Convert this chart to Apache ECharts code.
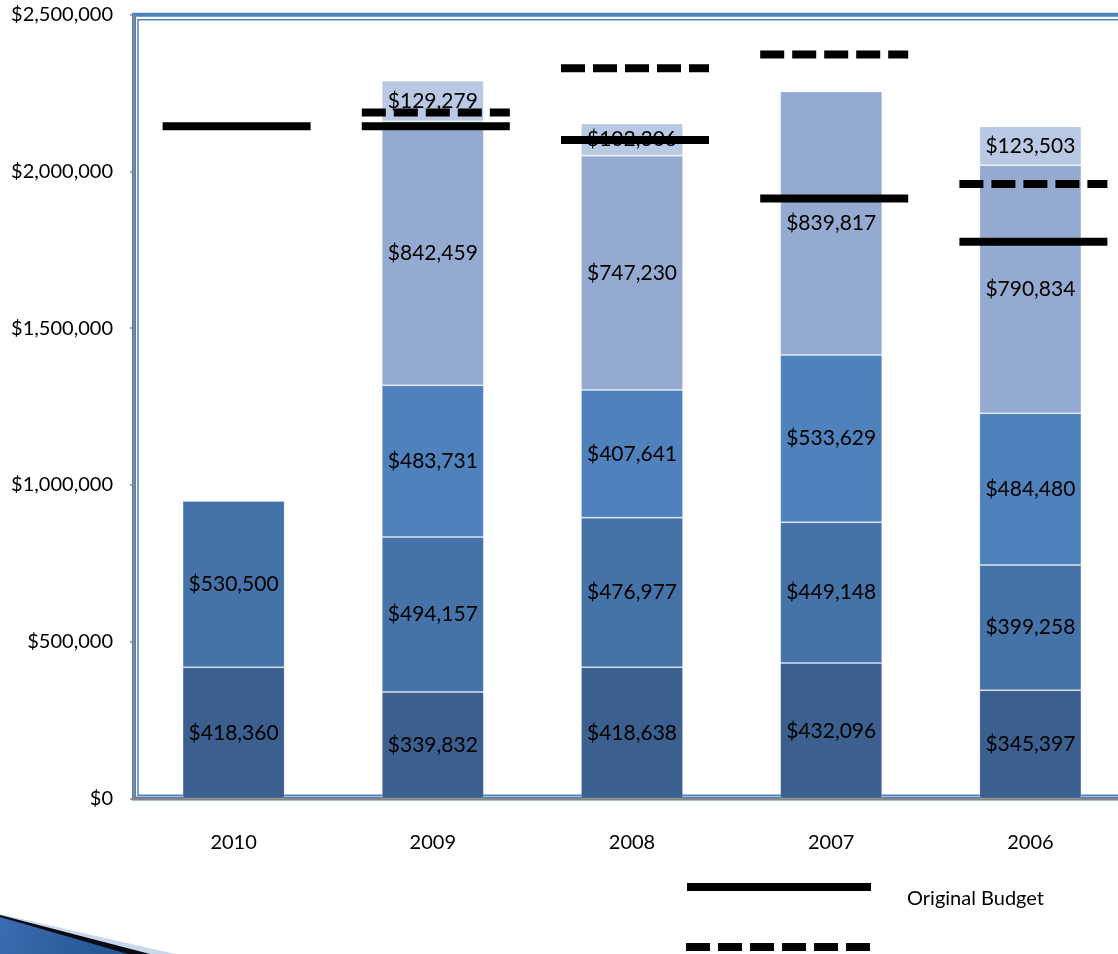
<!DOCTYPE html>
<html>
<head>
<meta charset="utf-8">
<script src="https://cdn.jsdelivr.net/npm/echarts@6/dist/echarts.min.js"></script>
<style>
html,body{margin:0;padding:0;background:#fff;overflow:hidden;width:1118px;height:954px;}
#chart{width:1140px;height:954px;}
</style>
</head>
<body>
<div id="chart"></div>
<script>
const categories = ['2010', '2009', '2008', '2007', '2006'];
const seg1 = [418360, 339832, 418638, 432096, 345397];
const seg2 = [530500, 494157, 476977, 449148, 399258];
const seg3 = [null, 483731, 407641, 533629, 484480];
const seg4 = [null, 842459, 747230, 839817, 790834];
const seg5 = [null, 129279, 102306, null, 123503];
const originalBudget = [2144000, 2144000, 2100000, 1914000, 1776000];
const revisedBudget = [null, 2188000, 2329000, 2373000, 1960000];
const yTicks = [0, 500000, 1000000, 1500000, 2000000, 2500000];

const FONT = 'Lato';
const money = v => '$' + Number(v).toLocaleString('en-US');
const segColors = ['#3B5F8E', '#4573A7', '#4F81BD', '#95AAD1', '#B9C9E3'];
const segs = [seg1, seg2, seg3, seg4, seg5];

const barSeries = segs.map((arr, i) => ({
  name: 'Segment ' + (i + 1),
  type: 'bar',
  stack: 'total',
  barWidth: 102,
  data: arr,
  itemStyle: { color: segColors[i], borderColor: 'rgba(255,255,255,0.2)', borderWidth: 1 },
  label: {
    show: true, position: 'inside', color: '#000',
    fontFamily: FONT, fontSize: 21,
    formatter: p => money(p.value)
  },
  z: 3
}));

function budgetSeries(name, arr, dashed) {
  return {
    name: name,
    type: 'custom',
    z: 10,
    encode: { x: 0, y: 1 },
    data: arr.map((v, i) => v == null ? null : [i, v]).filter(d => d),
    renderItem: function (params, api) {
      const c = api.coord([api.value(0), api.value(1)]);
      return {
        type: 'line',
        shape: { x1: c[0] - 71, y1: c[1], x2: c[0] + 77, y2: c[1] },
        style: { stroke: '#000', lineWidth: 8, lineDash: dashed ? [24, 8] : null, lineCap: 'butt' }
      };
    }
  };
}

const chart = echarts.init(document.getElementById('chart'));
chart.setOption({
  animation: false,
  backgroundColor: '#fff',
  grid: {
    left: 134, top: 14.7, width: 996, height: 783.8,
    show: true, borderColor: '#4F81BD', borderWidth: 4, backgroundColor: 'transparent'
  },
  xAxis: {
    type: 'category',
    data: categories,
    axisLine: { show: true, lineStyle: { color: '#868686', width: 2 } },
    axisTick: { show: false },
    axisLabel: { color: '#000', fontFamily: FONT, fontSize: 20, margin: 34 }
  },
  yAxis: {
    type: 'value',
    min: yTicks[0], max: yTicks[yTicks.length - 1], interval: 500000,
    axisLine: { show: true, lineStyle: { color: '#868686', width: 2 } },
    axisTick: { show: true, length: 4, lineStyle: { color: '#868686', width: 1.5 } },
    splitLine: { show: false },
    axisLabel: { color: '#000', fontFamily: FONT, fontSize: 20, margin: 21, formatter: v => money(v) }
  },
  series: barSeries.concat([
    budgetSeries('Original Budget', originalBudget, false),
    budgetSeries('Revised Budget', revisedBudget, true)
  ]),
  graphic: [
    { type: 'rect', z: 0, silent: true,
      shape: { x: 138, y: 19.8, width: 1100, height: 775.5 },
      style: { fill: 'none', stroke: '#4F81BD', lineWidth: 1.5 } },
    { type: 'line', shape: { x1: 687, y1: 887, x2: 871, y2: 887 },
      style: { stroke: '#000', lineWidth: 8 } },
    { type: 'text', left: 907, top: 889,
      style: { text: 'Original Budget', fill: '#000', font: '20px ' + FONT } },
    { type: 'line', shape: { x1: 686, y1: 947, x2: 870, y2: 947 },
      style: { stroke: '#000', lineWidth: 8, lineDash: [24, 8] } },
    { type: 'polygon', shape: { points: [[0, 914], [175, 954], [0, 954]] },
      style: { fill: '#C9D8EC' } },
    { type: 'polygon', shape: { points: [[0, 915], [150, 954], [0, 954]] },
      style: { fill: '#0A0A14' } },
    { type: 'polygon', shape: { points: [[0, 917], [128, 954], [0, 954]] },
      style: { fill: new echarts.graphic.LinearGradient(0, 0, 1, 1, [
        { offset: 0, color: '#3A6CB0' }, { offset: 1, color: '#24528F' }]) } }
  ]
});
</script>
</body>
</html>
